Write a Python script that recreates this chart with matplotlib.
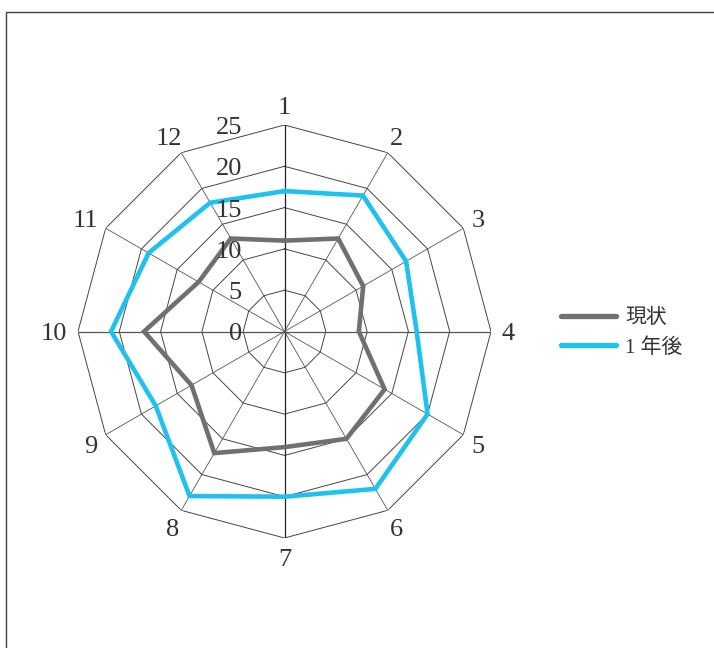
import numpy as np
import matplotlib
matplotlib.use("Agg")
import matplotlib.pyplot as plt
from matplotlib.patches import Rectangle
from matplotlib.transforms import offset_copy

categories = ["1", "2", "3", "4", "5", "6", "7", "8", "9", "10", "11", "12"]
current = [11, 13, 11, 9, 14, 15, 14, 17, 13, 17, 12, 13]
one_year = [17, 19, 17, 16, 20, 22, 20, 23, 18, 21, 19, 18]
series_names = ["現状", "1 年後"]
ring_values = [5, 10, 15, 20, 25]
ring_labels = ["0", "5", "10", "15", "20", "25"]
rmax = 25

W, H = 714, 648
fig = plt.figure(figsize=(W / 100, H / 100), dpi=100)

# frame
fig.patches.append(Rectangle((6 / W, -0.1), 1.2, 1.1 - 12 / H,
                             transform=fig.transFigure, fill=False,
                             edgecolor="#404040", linewidth=1.0))

cx, cy, R = 284.5, 331.5, 206.5
ax = fig.add_axes([(cx - R) / W, (H - cy - R) / H, 2 * R / W, 2 * R / H],
                  projection="polar")
ax.set_theta_zero_location("N")
ax.set_theta_direction(-1)
ax.set_ylim(0, rmax)
ax.grid(False)
ax.set_xticks([])
ax.set_yticks([])
ax.spines["polar"].set_visible(False)
ax.patch.set_alpha(0)

n = len(categories)
theta = np.arange(n) * 2 * np.pi / n
theta_c = np.append(theta, theta[0])

# polygon rings
for rv in ring_values:
    ax.plot(theta_c, [rv] * (n + 1), color="#444444", lw=0.7, zorder=1)
# spokes
for i, t in enumerate(theta):
    ax.plot([t, t], [0, rmax], color="#222222" if i % 6 == 0 else "#555555",
            lw=0.9 if i % 3 == 0 else 0.6, zorder=1)

serif = ["Liberation Serif", "Noto Sans CJK JP"]
FS = 19


def closed(v):
    return list(v) + [v[0]]


l1, = ax.plot(theta_c, closed(current), color="#707070", lw=3.3, zorder=3,
              solid_joinstyle="miter")
l2, = ax.plot(theta_c, closed(one_year), color="#1fc1ef", lw=3.3, zorder=3,
              solid_joinstyle="miter")

# category labels, placed just outside each outer vertex
em = FS * 100 / 72
digit_h = 0.68 * em
gap = 10.5
for t, lab in zip(theta, categories):
    w = 0.5 * em * len(lab)
    s, c = np.sin(t), np.cos(t)
    dx = s * (gap + w / 2)
    dy = c * (gap + digit_h / 2) - digit_h / 2
    tr = offset_copy(ax.transData, fig=fig, x=dx, y=dy, units="dots")
    ax.text(t, rmax, lab, transform=tr, ha="center", va="baseline",
            fontsize=FS, family=serif, color="#333333")

# ring value labels
for rv, lab in zip([0] + ring_values, ring_labels):
    tr = offset_copy(ax.transData, fig=fig, x=-42.5, y=-digit_h / 2,
                     units="dots")
    ax.text(0, rv, lab, transform=tr, ha="right", va="baseline", fontsize=FS,
            family=serif, color="#333333")

leg = fig.legend([l1, l2], series_names, loc="center left",
                 bbox_to_anchor=(561 / W, 1 - 333 / H), frameon=False,
                 prop={"family": serif, "size": 15}, handlelength=2.65,
                 handletextpad=0.42, labelspacing=0.48, borderpad=0,
                 borderaxespad=0)
for lh in leg.get_lines():
    lh.set_linewidth(3.8)
    lh.set_solid_capstyle("round")
for tx in leg.get_texts():
    tx.set_color("#333333")

fig.savefig("out.png", dpi=100)
